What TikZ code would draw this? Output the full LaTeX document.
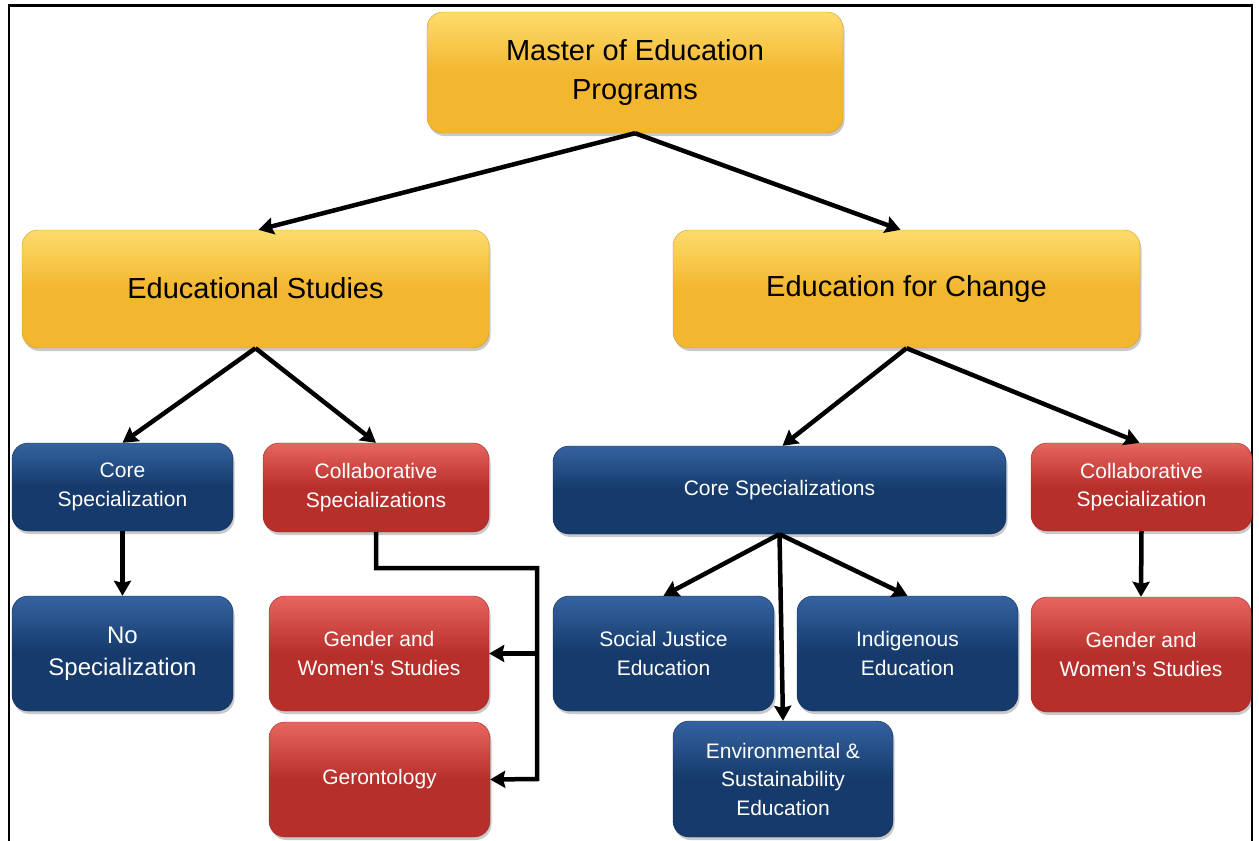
\documentclass[tikz,border=0pt]{standalone}
\usepackage{fontspec}
\setmainfont{Liberation Sans}
\usetikzlibrary{arrows.meta,shadows,calc}
\definecolor{ytop}{HTML}{FDDC6C}
\definecolor{ymain}{HTML}{F3B62F}
\definecolor{btop}{HTML}{3563A0}
\definecolor{bmain}{HTML}{153A6B}
\definecolor{rtop}{HTML}{E86660}
\definecolor{rmain}{HTML}{B72F2A}
\tikzset{
  x=1pt,y=-1pt,
  box/.style={rounded corners=16pt, align=center, inner sep=0pt,
    drop shadow={shadow xshift=1.5pt,shadow yshift=-3pt,opacity=0.3,fill=black!70}},
  ybox/.style={box, top color=ytop, bottom color=ymain, middle color=ymain, draw=ymain!85!black, line width=0.4pt, text=black},
  bbox/.style={box, top color=btop, bottom color=bmain, middle color=bmain, draw=bmain!80!black, line width=0.4pt, text=white},
  rbox/.style={box, top color=rtop, bottom color=rmain, middle color=rmain, draw=rmain!85!black, line width=0.4pt, text=white},
  big/.style={font=\fontsize{29}{39}\selectfont},
  small/.style={font=\fontsize{21}{28.5}\selectfont},
  mid/.style={font=\fontsize{24}{32}\selectfont},
  arr/.style={line width=4.5pt, -{Stealth[length=15pt,width=17pt,inset=2pt]}, line join=miter},
}
\begin{document}
\begin{tikzpicture}
\useasboundingbox (0,0) rectangle (1259,841);
% frame
\draw[line width=1.5pt] (9,841) -- (9,5);
\draw[line width=1.5pt] (1252,841) -- (1252,5);
\draw[line width=3pt] (8,5) -- (1253,5);

% nodes
\node[ybox, big, minimum width=416, minimum height=121] (master) at (635,72.5) {Master of Education\\Programs};
\node[ybox, big, minimum width=467, minimum height=118] (edst) at (255.5,289) {\raisebox{1.5pt}{Educational Studies}};
\node[ybox, big, minimum width=467, minimum height=118] (edch) at (906.5,289) {Education for Change};

\node[bbox, small, minimum width=221, minimum height=88] (coreL) at (122.5,487) {Core\\Specialization};
\node[rbox, small, minimum width=226, minimum height=89] (collL) at (376,487.5) {Collaborative\\Specializations};
\node[bbox, small, minimum width=453, minimum height=88] (coreR) at (779.5,490) {Core Specializations};
\node[rbox, small, minimum width=221, minimum height=88] (collR) at (1141.5,487) {Collaborative\\Specialization};

\node[bbox, mid, minimum width=221, minimum height=115] (noSp) at (122.5,653.5) {No\\Specialization};
\node[rbox, small, minimum width=220, minimum height=115] (genL) at (379,653.5) {Gender and\\Women’s Studies};
\node[rbox, small, minimum width=221, minimum height=115] (geron) at (379.5,779.5) {Gerontology};
\node[bbox, small, minimum width=221, minimum height=115] (sje) at (663.5,653.5) {Social Justice\\Education};
\node[bbox, small, minimum width=221, minimum height=115] (ind) at (907.5,653.5) {Indigenous\\Education};
\node[bbox, small, minimum width=220, minimum height=116] (env) at (783,779) {Environmental \&\\Sustainability\\Education};
\node[rbox, small, minimum width=220, minimum height=115] (genR) at (1141,654.5) {Gender and\\Women’s Studies};

% connectors
\draw[arr] (master.south) -- ($(edst.north)+(3,0)$);
\draw[arr] (master.south) -- ($(edch.north)+(-6,0)$);
\draw[arr] (edst.south) -- (coreL.north);
\draw[arr] (edst.south) -- (collL.north);
\draw[arr] (edch.south) -- ($(coreR.north)+(3,0)$);
\draw[arr] (edch.south) -- ($(collR.north)+(-2,0)$);
\draw[arr] (coreL.south) -- (noSp.north);
\draw[arr] (collR.south) -- (genR.north);
\draw[arr] (coreR.south) -- (sje.north);
\draw[arr] (coreR.south) -- (ind.north);
\draw[arr] (coreR.south) -- (env.north);
\coordinate (k1) at (537,568);
\coordinate (k2) at (537,779);
\draw[arr] (collL.south) |- (k1) -- (k2) -- (geron.east);
\draw[arr] (k1 |- genL.east) -- (genL.east);
\end{tikzpicture}
\end{document}
